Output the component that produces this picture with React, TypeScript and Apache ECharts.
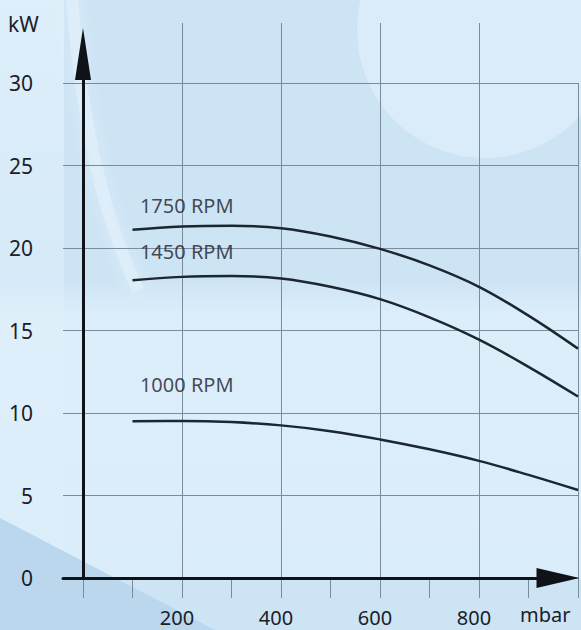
import React, { useEffect, useRef } from 'react';
import * as echarts from 'echarts';

// Data
const pressure = [100, 200, 300, 400, 500, 600, 700, 800, 900, 1000]; // mbar
const rpm1750 = [21.1, 21.3, 21.35, 21.2, 20.7, 19.95, 18.95, 17.65, 15.9, 13.9];
const rpm1450 = [18.05, 18.25, 18.3, 18.15, 17.65, 16.9, 15.8, 14.45, 12.8, 11.0];
const rpm1000 = [9.5, 9.52, 9.45, 9.25, 8.9, 8.4, 7.8, 7.1, 6.25, 5.33];
const seriesNames = ['1750 RPM', '1450 RPM', '1000 RPM'];
const labelX = [114, 114, 114];
const labelY = [22.6, 19.76, 11.7];
const xTickLabels = [200, 400, 600, 800];
const yUnit = 'kW';
const xUnit = 'mbar';

const GRID = '#7a8c9c';
const TEXT = '#1b2027';
const CURVE = '#1c2631';
const AXIS = '#0f1216';
const FONT = 'Noto Sans';

export default function App() {
  const ref = useRef<HTMLDivElement>(null);

  useEffect(() => {
    if (!ref.current) return;
    const chart = echarts.init(ref.current, undefined, { renderer: 'svg' });
    const curves = [rpm1750, rpm1450, rpm1000];

    const option: any = {
      animation: false,
      backgroundColor: '#cde4f5',
      textStyle: { fontFamily: FONT },
      grid: [
        { left: 83, top: 83, width: 500, height: 495 },
        { left: 63, top: 54, width: 495, height: 524 },
      ],
      xAxis: [
        {
          gridIndex: 0,
          type: 'value',
          min: 0,
          max: 1000,
          interval: 200,
          z: 2,
          axisLine: { show: false },
          axisTick: { show: true, length: 20, lineStyle: { color: GRID, width: 1 } },
          minorTick: { show: true, splitNumber: 2, length: 20, lineStyle: { color: GRID, width: 1 } },
          splitLine: { show: true, lineStyle: { color: GRID, width: 1 } },
          minorSplitLine: { show: false },
          axisLabel: {
            margin: 29,
            fontSize: 20,
            color: TEXT,
            fontFamily: FONT,
            padding: [0, 10, 0, 0],
            formatter: (v: number) => (xTickLabels.includes(v) ? String(v) : ''),
          },
        },
        {
          gridIndex: 0,
          type: 'value',
          position: 'top',
          min: 0,
          max: 1000,
          interval: 200,
          z: 2,
          axisLine: { show: false },
          axisTick: { show: true, length: 60, customValues: xTickLabels, lineStyle: { color: GRID, width: 1 } },
          axisLabel: { show: false },
          splitLine: { show: false },
        },
        {
          gridIndex: 1,
          type: 'value',
          min: -40,
          max: 950,
          z: 5,
          axisLine: {
            show: true,
            onZero: true,
            symbol: ['none', 'triangle'],
            symbolSize: [20, 43],
            lineStyle: { color: AXIS, width: 3 },
          },
          axisTick: { show: false },
          axisLabel: { show: false },
          splitLine: { show: false },
        },
      ],
      yAxis: [
        {
          gridIndex: 0,
          type: 'value',
          min: 0,
          max: 30,
          interval: 5,
          z: 2,
          axisLine: { show: false },
          axisTick: { show: true, length: 20, lineStyle: { color: GRID, width: 1 } },
          splitLine: { show: true, lineStyle: { color: GRID, width: 1 } },
          axisLabel: { margin: 50, fontSize: 21, color: TEXT, fontFamily: FONT },
        },
        {
          gridIndex: 1,
          type: 'value',
          min: 0,
          max: 524 / 16.5,
          z: 5,
          axisLine: {
            show: true,
            onZero: true,
            symbol: ['none', 'triangle'],
            symbolSize: [16, 52],
            lineStyle: { color: AXIS, width: 3 },
          },
          axisTick: { show: false },
          axisLabel: { show: false },
          splitLine: { show: false },
        },
      ],
      graphic: [
        {
          type: 'rect', z: 0, silent: true,
          shape: { x: 0, y: 280, width: 581, height: 300 },
          style: {
            fill: new echarts.graphic.LinearGradient(0, 0, 0, 1, [
              { offset: 0, color: 'rgba(222,239,251,0)' },
              { offset: 0.12, color: 'rgba(222,239,251,0.9)' },
              { offset: 1, color: 'rgba(222,239,251,0.8)' },
            ]),
          },
        },
        { type: 'circle', z: 0, silent: true, shape: { cx: 485, cy: 30, r: 128 }, style: { fill: '#daecf9' } },
        {
          type: 'rect', z: 0, silent: true,
          shape: { x: 0, y: 0, width: 64, height: 560 },
          style: {
            fill: new echarts.graphic.LinearGradient(0, 0, 0, 1, [
              { offset: 0, color: 'rgba(226,241,252,0.8)' },
              { offset: 1, color: 'rgba(226,241,252,0.1)' },
            ]),
          },
        },
        {
          type: 'bezierCurve', z: 0, silent: true,
          shape: { x1: 72, y1: -5, cpx1: 80, cpy1: 110, cpx2: 100, cpy2: 210, x2: 138, y2: 290 },
          style: { stroke: 'rgba(240,248,255,0.35)', lineWidth: 12, fill: 'none', shadowBlur: 16, shadowColor: 'rgba(255,255,255,0.8)' },
        },
        { type: 'polygon', z: 0, silent: true, shape: { points: [[0, 518], [215, 630], [0, 630]] }, style: { fill: '#bad7ee' } },
        { type: 'text', z: 10, left: 8, top: 13, style: { text: yUnit, fontSize: 21, fill: TEXT, fontFamily: FONT } },
        { type: 'text', z: 10, left: 520, top: 604, style: { text: xUnit, fontSize: 20, fill: TEXT, fontFamily: FONT } },
      ],
      series: [
        ...curves.map((c, i) => ({
          type: 'line',
          name: seriesNames[i],
          xAxisIndex: 0,
          yAxisIndex: 0,
          smooth: 0.4,
          symbol: 'none',
          z: 3,
          lineStyle: { color: CURVE, width: 2.5 },
          data: pressure.map((p, j) => [p, c[j]]),
        })),
        {
          type: 'scatter',
          xAxisIndex: 0,
          yAxisIndex: 0,
          symbolSize: 1,
          z: 4,
          silent: true,
          itemStyle: { color: 'transparent' },
          label: { show: true, position: 'right', distance: 0, formatter: '{b}', fontSize: 20, color: TEXT, fontFamily: FONT },
          data: seriesNames.map((n, i) => ({ name: n, value: [labelX[i], labelY[i]] })),
        },
      ],
    };

    chart.setOption(option);
    return () => chart.dispose();
  }, []);

  return <div ref={ref} style={{ position: 'fixed', left: 0, top: 0, width: 581, height: 630 }} />;
}
